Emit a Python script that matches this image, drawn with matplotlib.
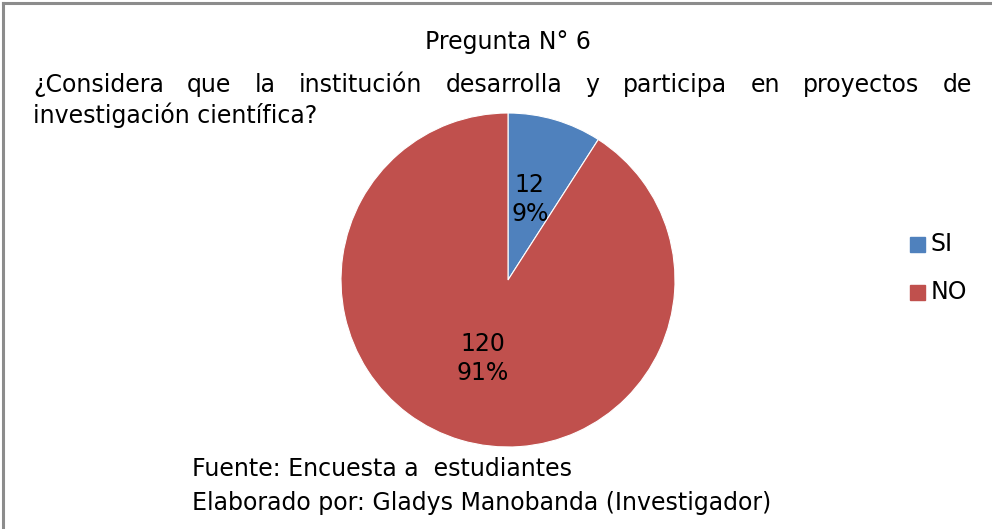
import matplotlib
matplotlib.use("Agg")
import matplotlib.pyplot as plt
from matplotlib.patches import Rectangle
from matplotlib.lines import Line2D

plt.rcParams['font.family'] = ['Liberation Sans Narrow', 'DejaVu Sans']

# datos
categorias = ['SI', 'NO']
valores = [12, 120]
porcentajes = ['9%', '91%']
colores = ['#4F81BD', '#C0504D']
titulo = 'Pregunta N° 6'
pregunta_l1 = '¿Considera que la institución desarrolla y participa en proyectos de'
pregunta_l2 = 'investigación científica?'
fuente = 'Fuente: Encuesta a  estudiantes'
elaborado = 'Elaborado por: Gladys Manobanda (Investigador)'

W, H = 992, 529
fig = plt.figure(figsize=(W / 100, H / 100), dpi=100)
fig.patch.set_facecolor('white')

def px(x, y):
    return x / W, 1 - y / H

# marco gris
fig.add_artist(Line2D([3 / W, 3 / W], [0, 1 - 3 / H], color='#8C8C8C', lw=2.2))
fig.add_artist(Line2D([3 / W, 1], [1 - 3 / H, 1 - 3 / H], color='#8C8C8C', lw=2.2))

fs = 17

# pastel
ax = fig.add_axes([341 / W, (H - 447) / H, 334 / W, 334 / H])
wedges, _ = ax.pie(valores, colors=colores, startangle=90, counterclock=False,
                   wedgeprops=dict(linewidth=0.8, edgecolor='white'))
ax.set_aspect('equal')
ax.set_xlim(-1, 1)
ax.set_ylim(-1, 1)
ax.axis('off')

etiquetas = [f'{v}\n{p}' for v, p in zip(valores, porcentajes)]
pos = [(0.13, 0.48), (-0.15, -0.47)]
for (x, y), t in zip(pos, etiquetas):
    ax.text(x, y, t, ha='center', va='center', fontsize=fs, linespacing=1.25)

# titulo
fig.text(*px(508, 42), titulo, ha='center', va='center', fontsize=fs)

# primera linea justificada
fig.canvas.draw()
r = fig.canvas.get_renderer()
palabras = pregunta_l1.split()
x0, x1 = 33, 972
objs = [fig.text(0, 0, w, fontsize=fs, va='center') for w in palabras]
anchos = [o.get_window_extent(renderer=r).width for o in objs]
gap = (x1 - x0 - sum(anchos)) / (len(palabras) - 1)
x = x0
for o, a in zip(objs, anchos):
    o.set_position(px(x, 85))
    x += a + gap
fig.text(*px(33, 115), pregunta_l2, va='center', fontsize=fs)

# leyenda
for i, (c, n) in enumerate(zip(colores, categorias)):
    yy = 244 + i * 48
    fig.add_artist(Rectangle(px(910, yy + 8), 15 / W, 15 / H, color=c))
    fig.text(*px(931, yy), n, va='center', fontsize=fs)

# pie de figura
fig.text(*px(192, 469), fuente, va='center', fontsize=fs)
fig.text(*px(192, 503), elaborado, va='center', fontsize=fs)

fig.savefig('out.png', dpi=100)
